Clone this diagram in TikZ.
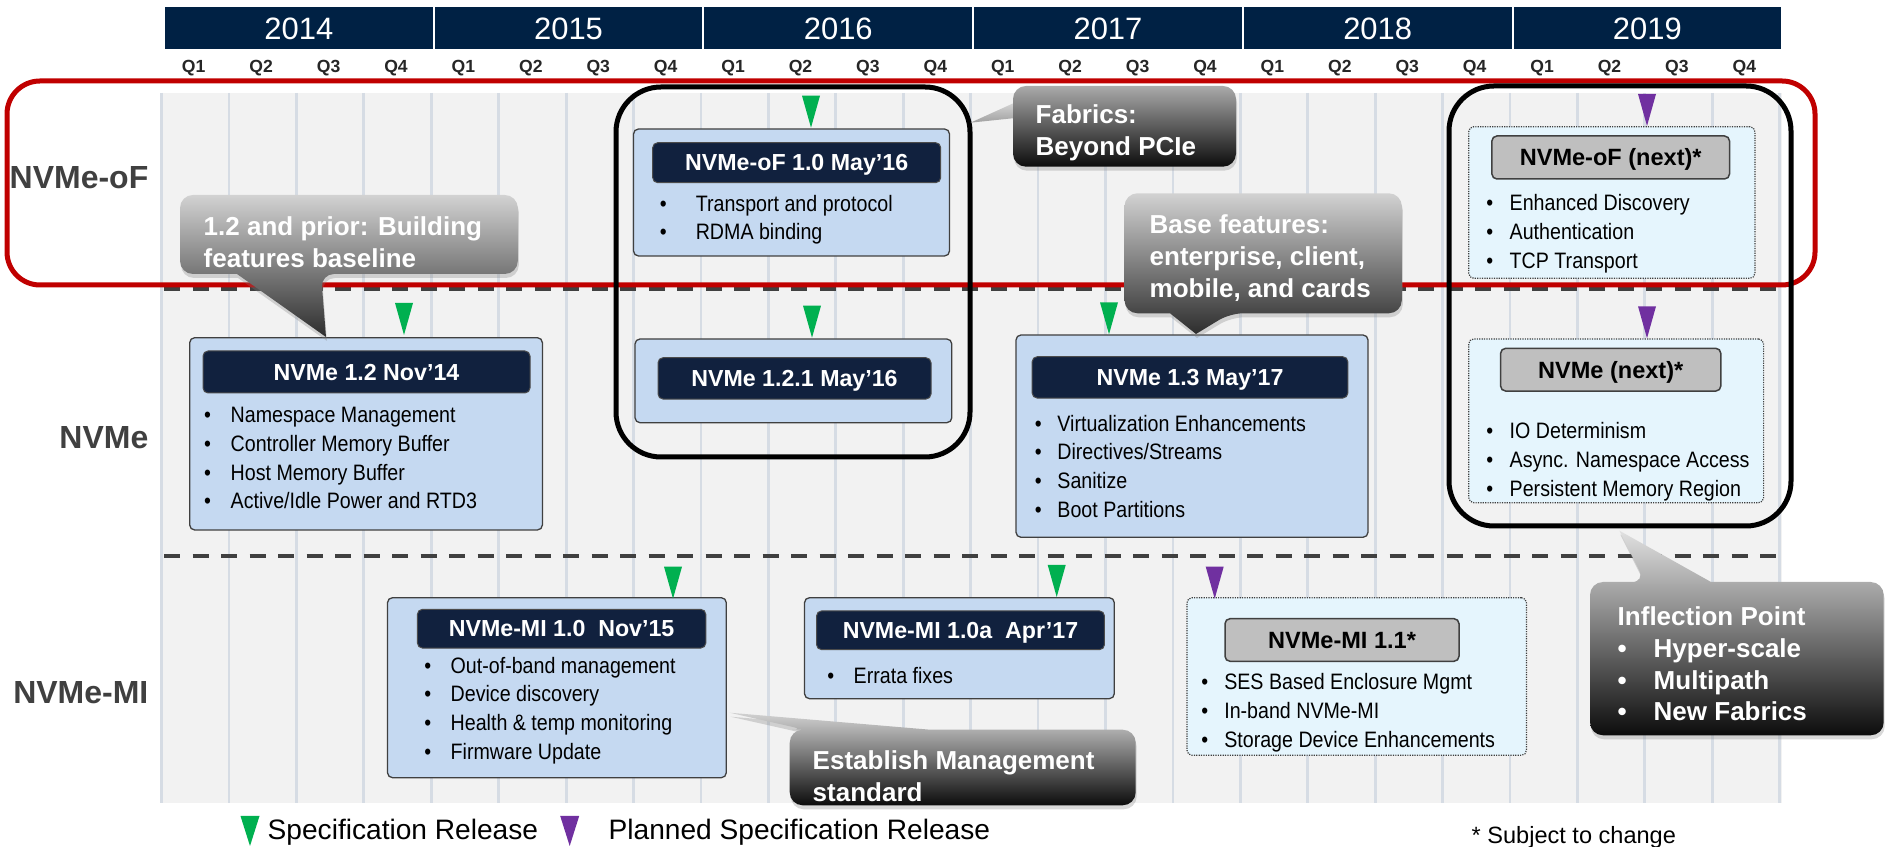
\documentclass[tikz,border=0pt]{standalone}
\usepackage{fontspec}
\setmainfont{Liberation Sans}
\newfontfamily\narrowsf{Liberation Sans}[FakeStretch=0.88]
\usetikzlibrary{positioning,shadows}

\definecolor{navy}{RGB}{0,33,68}
\definecolor{titlenavy}{RGB}{17,33,62}
\definecolor{boxblue}{RGB}{197,217,241}
\definecolor{paleblue}{RGB}{229,245,253}
\definecolor{titlegray}{RGB}{191,191,191}
\definecolor{bggray}{RGB}{242,242,242}
\definecolor{gridblue}{RGB}{214,220,228}
\definecolor{darkred}{RGB}{192,0,0}
\definecolor{specgreen}{RGB}{0,176,80}
\definecolor{planpurple}{RGB}{112,48,160}
\definecolor{labelgray}{RGB}{64,64,64}
\definecolor{bublight}{RGB}{210,210,210}
\definecolor{bubpale}{RGB}{225,225,225}
\definecolor{bubmid}{RGB}{170,170,170}
\definecolor{bubsilver}{RGB}{160,160,160}
\definecolor{bubdark}{RGB}{45,45,45}
\definecolor{bubblack}{RGB}{12,12,12}

\newcommand{\blt}[1][0.26cm]{\strut\makebox[#1][l]{•}}

\tikzset{
  yearcell/.style={fill=navy, text=white, minimum width=2.677cm, minimum height=0.42cm, inner sep=0, text height=6.3pt, text depth=0pt, font=\fontsize{8.8}{10}\selectfont},
  qlabel/.style={text=black!85, inner sep=0, font=\bfseries\fontsize{5}{6}\selectfont},
  rowlabel/.style={anchor=east, text=labelgray, inner sep=0, font=\bfseries\fontsize{9.1}{11}\selectfont},
  gridline/.style={gridblue, line width=0.028cm},
  rowsep/.style={labelgray, line width=0.045cm, dash pattern=on 0.16cm off 0.125cm},
  bluebox/.style={draw=labelgray, fill=boxblue, line width=0.013cm, rounded corners=0.05cm, inner sep=0},
  nextbox/.style={draw=labelgray, fill=paleblue, line width=0.012cm, dash pattern=on 0.012cm off 0.012cm, rounded corners=0.05cm, inner sep=0},
  titlebar/.style={fill=titlenavy, draw=black!70, line width=0.01cm, rounded corners=0.05cm, text=white, inner sep=0, text height=4.7pt, text depth=0pt, font=\bfseries\fontsize{6.6}{8}\selectfont},
  nexttitle/.style={fill=titlegray, draw=labelgray, line width=0.015cm, rounded corners=0.05cm, text=black, inner sep=0, text height=4.8pt, text depth=0pt, font=\bfseries\fontsize{6.7}{8}\selectfont},
  items/.style={anchor=west, align=left, inner sep=0, font=\narrowsf\fontsize{6.35}{8.19}\selectfont},
  relmark/.style={fill=specgreen},
  planmark/.style={fill=planpurple},
  bubble/.style={rounded corners=0.13cm, drop shadow={shadow xshift=0.01cm, shadow yshift=-0.04cm, opacity=0.3}},
  callouttext/.style={anchor=west, align=left, inner sep=0, text=white, font=\bfseries\fontsize{7.4}{9.05}\selectfont},
  bigbox/.style={draw=black, line width=0.05cm, rounded corners=0.45cm},
  legend/.style={anchor=west, inner sep=0, font=\fontsize{8}{9.6}\selectfont}
}

\begin{document}
\begin{tikzpicture}
  \useasboundingbox (0,0) rectangle (18.85,-8.47);

  % timeline background
  \fill[bggray] (1.60,-0.93) rectangle (17.82,-8.03);
  \foreach \k in {0,...,24}
    \draw[gridline] ({1.616+\k*0.6742},-0.93) -- ++(0,-7.10);
  \draw[rowsep] (1.64,-2.89) -- (17.78,-2.89);
  \draw[rowsep] (1.64,-5.56) -- (17.78,-5.56);

  % years and quarters
  \foreach \yr [count=\i from 0] in {2014,2015,2016,2017,2018,2019} {
    \node[yearcell] (y\yr) at ({2.9885+\i*2.697},-0.28) {\yr};
    \foreach \q in {1,...,4}
      \node[qlabel] (q\yr\q) at ({1.60+(\i*4+\q-0.5)*0.6742},-0.68) {Q\q};
  }

  \node[rowlabel] (oF) at (1.49,-1.78) {NVMe-oF};
  \node[rowlabel] (nv) at (1.49,-4.38) {NVMe};
  \node[rowlabel] (mi) at (1.49,-6.927) {NVMe-MI};

  \draw[darkred, line width=0.05cm, rounded corners=0.33cm] (0.07,-0.81) rectangle (18.15,-2.85);
  \draw[bigbox] (6.16,-0.87) rectangle (9.70,-4.57);
  \draw[bigbox] (14.49,-0.86) rectangle (17.91,-5.26);

  % released specs
  \node[bluebox, minimum width=3.16cm, minimum height=1.27cm] (oF10) at (7.915,-1.925) {};
  \node[titlebar, minimum width=2.88cm, minimum height=0.40cm] (oF10t) at (7.967,-1.627) {NVMe-oF 1.0 May’16};
  \node[items] (oF10i) at (6.591,-2.198) {\blt[0.36cm]Transport and protocol\\\blt[0.36cm]RDMA binding};

  \node[bluebox, minimum width=3.527cm, minimum height=1.923cm] (nv12) at (3.6605,-4.3385) {};
  \node[titlebar, minimum width=3.27cm, minimum height=0.42cm] (nv12t) at (3.665,-3.72) {NVMe 1.2 Nov’14};
  \node[items] (nv12i) at (2.033,-4.60) {\blt[0.267cm]Namespace Management\\\blt[0.267cm]Controller Memory Buffer\\\blt[0.267cm]Host Memory Buffer\\\blt[0.267cm]Active/Idle Power and RTD3};

  \node[bluebox, minimum width=3.168cm, minimum height=0.837cm] (nv121) at (7.934,-3.8085) {};
  \node[titlebar, minimum width=2.73cm, minimum height=0.413cm] (nv121t) at (7.945,-3.784) {NVMe 1.2.1 May’16};

  \node[bluebox, minimum width=3.52cm, minimum height=2.023cm] (nv13) at (11.92,-4.3615) {};
  \node[titlebar, minimum width=3.157cm, minimum height=0.413cm] (nv13t) at (11.90,-3.774) {NVMe 1.3 May’17};
  \node[items] (nv13i) at (10.341,-4.686) {\blt[0.226cm]Virtualization Enhancements\\\blt[0.226cm]Directives/Streams\\\blt[0.226cm]Sanitize\\\blt[0.226cm]Boot Partitions};

  \node[bluebox, minimum width=3.388cm, minimum height=1.80cm] (mi10) at (5.569,-6.877) {};
  \node[titlebar, minimum width=2.884cm, minimum height=0.387cm] (mi10t) at (5.616,-6.287) {NVMe-MI 1.0\ \ Nov’15};
  \node[items] (mi10i) at (4.236,-7.106) {\blt[0.264cm]Out-of-band management\\\blt[0.264cm]Device discovery\\\blt[0.264cm]Health \& temp monitoring\\\blt[0.264cm]Firmware Update};

  \node[bluebox, minimum width=3.098cm, minimum height=1.01cm] (mi10a) at (9.594,-6.482) {};
  \node[titlebar, minimum width=2.879cm, minimum height=0.387cm] (mi10at) at (9.605,-6.303) {NVMe-MI 1.0a\ \ Apr’17};
  \node[items] (mi10ai) at (8.266,-6.776) {\blt[0.264cm]Errata fixes};

  % planned specs
  \node[nextbox, minimum width=2.862cm, minimum height=1.516cm] (oFnx) at (16.118,-2.025) {};
  \node[nexttitle, minimum width=2.376cm, minimum height=0.43cm] (oFnxt) at (16.107,-1.575) {NVMe-oF (next)*};
  \node[items] (oFnxi) at (14.856,-2.337) {\blt[0.234cm]Enhanced Discovery\\\blt[0.234cm]Authentication\\\blt[0.234cm]TCP Transport};

  \node[nextbox, minimum width=2.949cm, minimum height=1.637cm] (nvnx) at (16.1615,-4.2085) {};
  \node[nexttitle, minimum width=2.202cm, minimum height=0.427cm] (nvnxt) at (16.107,-3.697) {NVMe (next)*};
  \node[items] (nvnxi) at (14.856,-4.615) {\blt[0.234cm]IO Determinism\\\blt[0.234cm]Async. Namespace Access\\\blt[0.234cm]Persistent Memory Region};

  \node[nextbox, minimum width=3.394cm, minimum height=1.576cm] (mi11) at (13.567,-6.765) {};
  \node[nexttitle, minimum width=2.34cm, minimum height=0.426cm] (mi11t) at (13.42,-6.40) {NVMe-MI 1.1*};
  \node[items] (mi11i) at (12.006,-7.125) {\blt[0.23cm]SES Based Enclosure Mgmt\\\blt[0.23cm]In-band NVMe-MI\\\blt[0.23cm]Storage Device Enhancements};

  % release markers
  \foreach \x/\y in {8.11/-1.277, 4.04/-3.35, 8.12/-3.377, 11.09/-3.343, 6.73/-5.987, 10.567/-5.97}
    \fill[relmark] (\x,\y) -- ++(-0.09,0.32) -- ++(0.18,0) -- cycle;
  \foreach \x/\y in {16.47/-1.26, 16.47/-3.383, 12.147/-5.987}
    \fill[planmark] (\x,\y) -- ++(-0.09,0.32) -- ++(0.18,0) -- cycle;

  % callouts
  \shade[bubble, top color=bublight, bottom color=bubdark]
    (2.37,-2.74) -- (1.80,-2.74) -- (1.80,-1.95) -- (5.178,-1.95) -- (5.178,-2.74) -- (3.21,-2.74)
    [sharp corners] -- (3.26,-3.37) -- cycle;
  \node[callouttext] (c1) at (2.03,-2.45) {\strut 1.2 and prior: Building\\\strut features baseline};

  \shade[top color=bubpale, bottom color=bubsilver] (10.25,-0.98) -- (9.705,-1.227) -- (10.25,-1.17) -- cycle;
  \shade[bubble, top color=bubmid, bottom color=bubblack] (10.13,-0.86) rectangle (12.36,-1.667);
  \node[callouttext] (c2) at (10.35,-1.335) {\strut Fabrics:\\\strut Beyond PCIe};

  \shade[bubble, top color=bublight, bottom color=bubdark]
    (11.70,-3.133) -- (11.245,-3.133) -- (11.245,-1.933) -- (14.018,-1.933) -- (14.018,-3.133) -- (12.30,-3.133)
    [sharp corners] -- (11.96,-3.34) -- cycle;
  \node[callouttext] (c3) at (11.49,-2.593) {\strut Base features:\\\strut enterprise, client,\\\strut mobile, and cards};

  \shade[bubble, top color=bublight, bottom color=bubblack]
    (9.30,-7.297) -- (11.357,-7.297) -- (11.357,-8.053) -- (7.897,-8.053) -- (7.897,-7.297) -- (8.05,-7.297)
    [sharp corners] -- (7.295,-7.127) -- cycle;
  \node[callouttext] (c4) at (8.12,-7.79) {\strut Establish Management\\\strut standard};

  \shade[bubble, top color=bubpale, bottom color=bubblack]
    (17.11,-5.82) -- (18.837,-5.82) -- (18.837,-7.353) -- (15.90,-7.353) -- (15.90,-5.82) -- (16.45,-5.82)
    [sharp corners] -- (16.194,-5.307) -- cycle;
  \node[callouttext] (c5) at (16.17,-6.668) {\strut Inflection Point\\\blt[0.36cm]Hyper-scale\\\blt[0.36cm]Multipath\\\blt[0.36cm]New Fabrics};

  % legend
  \fill[relmark] (2.50,-8.46) -- ++(-0.095,0.30) -- ++(0.19,0) -- cycle;
  \node[legend] (lg1) at (2.67,-8.32) {Specification Release};
  \fill[planmark] (5.697,-8.46) -- ++(-0.095,0.30) -- ++(0.19,0) -- cycle;
  \node[legend] (lg2) at (6.08,-8.32) {Planned Specification Release};
  \node[anchor=west, inner sep=0, font=\fontsize{6.7}{8}\selectfont] (note) at (14.71,-8.37) {* Subject to change};
\end{tikzpicture}
\end{document}
